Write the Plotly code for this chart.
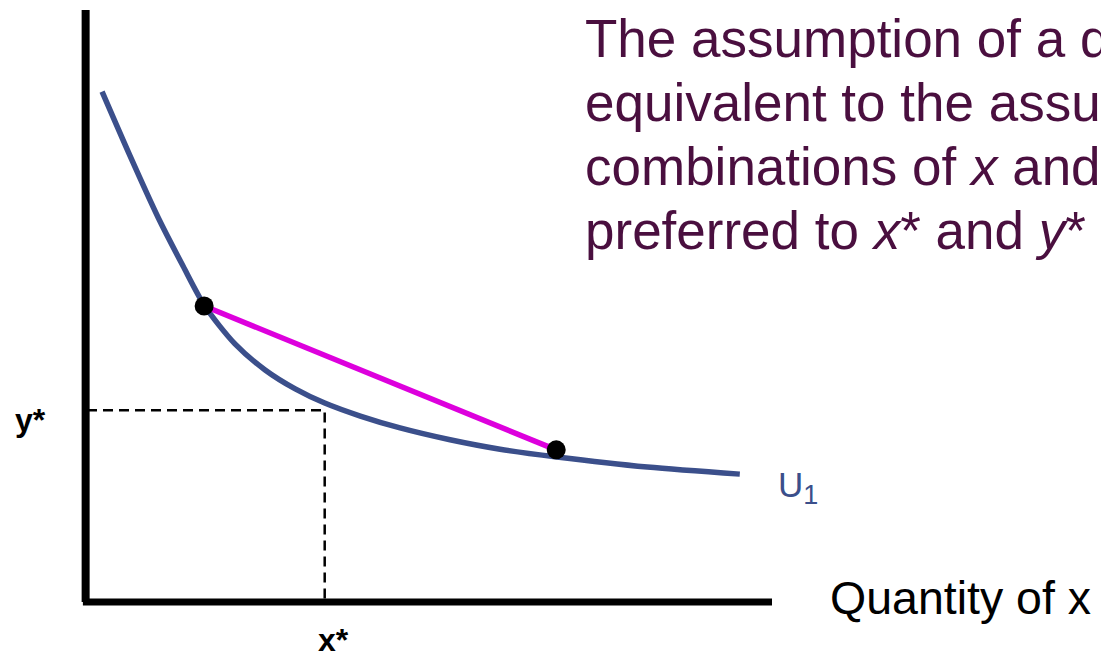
import plotly.graph_objects as go

# Indifference curve U1: quantity of x against quantity of y
curve_x = [0.22, 0.63, 1.04, 1.40, 1.72, 2.16, 2.60, 3.04, 3.47, 3.99, 4.57, 5.30, 6.03, 6.86, 8.18, 9.53]
curve_y = [8.62, 7.53, 6.49, 5.68, 5.00, 4.36, 3.92, 3.60, 3.36, 3.14, 2.94, 2.74, 2.58, 2.45, 2.28, 2.16]

# Two bundles on the curve, joined by a straight chord
bundle_x = [1.71, 6.85]
bundle_y = [5.00, 2.57]

# Reference bundle (x*, y*)
x_star = 3.47
y_star = 3.24

# Length of the drawn axes
axis_x_max = 10.0
axis_y_max = 10.0

statement_lines = [
    "The assumption of a diminishing MRS is",
    "equivalent to the assumption that all",
    "combinations of <i>x</i> and <i>y</i> which are",
    "preferred to <i>x</i>* and <i>y</i>* ",
]

FONT = "Liberation Sans, Arial, sans-serif"
TEXT_PURPLE = "#4A0F3F"
CURVE_BLUE = "#3B4F8B"
CHORD_MAGENTA = "#DD00DD"

W, H = 1101, 654
ox, oy = 87, 602          # pixel position of the origin
sx, sy = 68.5, 59.2       # pixels per unit

x_range = [-ox / sx, (W - ox) / sx]
y_range = [-(H - oy) / sy, oy / sy]

fig = go.Figure()

# dashed guides to x* and y*
fig.add_trace(go.Scatter(
    x=[0, x_star, x_star], y=[y_star, y_star, 0],
    mode="lines", line=dict(color="black", width=2.5, dash="10px,6px"),
    hoverinfo="skip", showlegend=False))

# indifference curve
fig.add_trace(go.Scatter(
    x=curve_x, y=curve_y, mode="lines",
    line=dict(color=CURVE_BLUE, width=5.5, shape="spline", smoothing=0.8),
    showlegend=False))

# chord between the two bundles
fig.add_trace(go.Scatter(
    x=bundle_x, y=bundle_y, mode="lines",
    line=dict(color=CHORD_MAGENTA, width=5.5), showlegend=False))

# the bundles themselves
fig.add_trace(go.Scatter(
    x=bundle_x, y=bundle_y, mode="markers",
    marker=dict(color="black", size=19), showlegend=False))

# axes
fig.add_shape(type="line", x0=-0.02, y0=0, x1=-0.02, y1=axis_y_max,
              line=dict(color="black", width=8))
fig.add_shape(type="line", x0=-0.06, y0=0, x1=axis_x_max, y1=0,
              line=dict(color="black", width=7))

annotations = []
annotations.append(dict(
    x=-0.83, y=y_star - 0.17, text="<b>y*</b>", showarrow=False,
    xanchor="center", yanchor="middle",
    font=dict(family=FONT, size=32, color="black")))
annotations.append(dict(
    x=x_star + 0.13, y=-0.64, text="<b>x*</b>", showarrow=False,
    xanchor="center", yanchor="middle",
    font=dict(family=FONT, size=32, color="black")))
annotations.append(dict(
    x=(828 - ox) / sx, y=0.07, text="Quantity of x", showarrow=False,
    xanchor="left", yanchor="middle",
    font=dict(family=FONT, size=46.5, color="black")))
annotations.append(dict(
    x=(776 - ox) / sx, y=(oy - 487) / sy,
    text="U<sub><span style='font-size:27px'>1</span></sub>", showarrow=False,
    xanchor="left", yanchor="middle",
    font=dict(family=FONT, size=35, color=CURVE_BLUE)))

for i, line in enumerate(statement_lines):
    annotations.append(dict(
        x=(583 - ox) / sx, y=(oy - (38 + 64 * i)) / sy, text=line,
        showarrow=False, xanchor="left", yanchor="middle",
        font=dict(family=FONT, size=53, color=TEXT_PURPLE)))

fig.update_layout(
    width=W, height=H,
    margin=dict(l=0, r=0, t=0, b=0),
    paper_bgcolor="white", plot_bgcolor="white",
    xaxis=dict(range=x_range, visible=False, fixedrange=True),
    yaxis=dict(range=y_range, visible=False, fixedrange=True),
    annotations=annotations,
    showlegend=False,
)

fig.write_html("out.html", config={"displayModeBar": False})
